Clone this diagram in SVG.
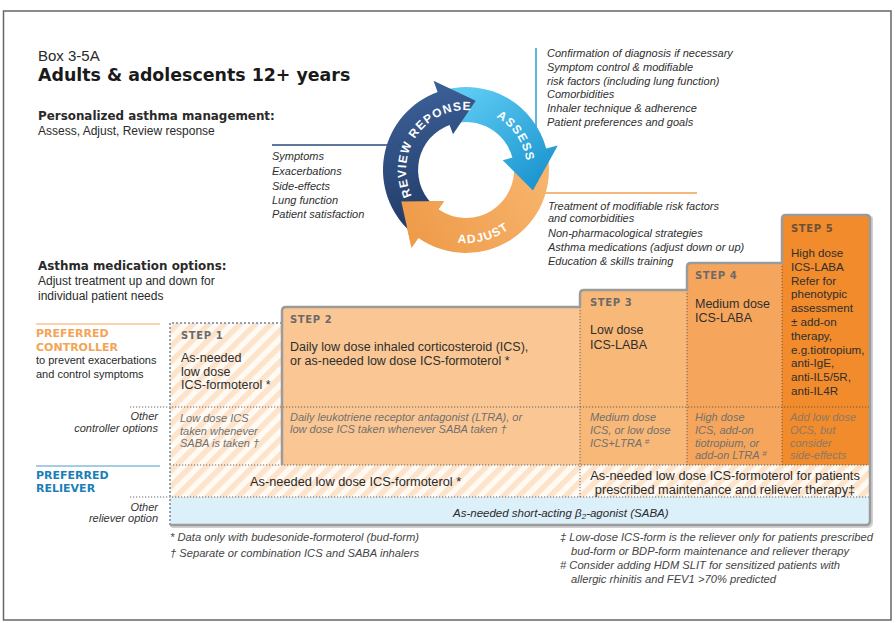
<svg xmlns="http://www.w3.org/2000/svg" width="896" height="623" viewBox="0 0 896 623">
<defs>
<style>
text{font-family:"Liberation Sans",Arial,Helvetica,sans-serif;fill:#2a2a2a}
.hv{font-family:"DejaVu Sans",Verdana,sans-serif;font-weight:bold}
.lst{font-style:italic;font-size:11px;fill:#2f2f2f}
.step{font-family:"DejaVu Sans",Verdana,sans-serif;font-weight:bold;font-size:10px;letter-spacing:0.6px;fill:#6a6a6a}
.main{font-size:12.5px;fill:#2e2e2e}
.s5{font-size:11.6px;fill:#2e2e2e}
.oth{font-style:italic;font-size:11px;fill:#707070}
.lab{font-style:italic;font-size:11px;fill:#333;text-anchor:end}
.arc{font-weight:bold;font-size:12px;fill:#fff;letter-spacing:1.2px}
.fn{font-style:italic;font-size:11px;fill:#444}
.dot{stroke:#555;stroke-width:0.9;stroke-dasharray:1.2 1.8;fill:none}
.conn{fill:none;stroke-width:1.5}
</style>
<pattern id="hatch" patternUnits="userSpaceOnUse" width="11" height="11" patternTransform="rotate(45)">
<rect width="11" height="11" fill="#fffaf4"/>
<rect width="5.5" height="11" fill="#fde3c9"/>
</pattern>
<linearGradient id="gNavy" gradientUnits="userSpaceOnUse" x1="400" y1="90" x2="450" y2="230">
<stop offset="0" stop-color="#3d6199"/><stop offset="1" stop-color="#1e3762"/>
</linearGradient>
<linearGradient id="gBlue" gradientUnits="userSpaceOnUse" x1="470" y1="90" x2="550" y2="190">
<stop offset="0" stop-color="#5ccaf2"/><stop offset="1" stop-color="#1590cc"/>
</linearGradient>
<linearGradient id="gOrange" gradientUnits="userSpaceOnUse" x1="540" y1="170" x2="410" y2="250">
<stop offset="0" stop-color="#f7b46c"/><stop offset="1" stop-color="#ee9a48"/>
</linearGradient>
<path id="tpReview" d="M410.4,192.5 A60,60 0 0,1 468.1,110.1"/>
<path id="tpAssess" d="M482.8,111.4 A61,61 0 0,1 526.7,176.4"/>
<path id="tpAdjust" d="M435.1,236.2 A73,73 0 0,0 525.8,211.9"/>
</defs>

<rect x="3.5" y="11" width="887.5" height="609" fill="#fff" stroke="#666" stroke-width="1.5"/>

<g id="header">
<text x="38" y="61" font-size="15">Box 3-5A</text>
<text class="hv" x="38" y="81" font-size="17.4" style="fill:#1a1a1a">Adults &amp; adolescents 12+ years</text>
<text class="hv" x="38" y="120" font-size="11.9">Personalized asthma management:</text>
<text x="38" y="135" font-size="12">Assess, Adjust, Review response</text>
</g>

<g id="connectors">
<path class="conn" stroke="#2b4a7c" d="M272,145 H388"/>
<path class="conn" stroke="#2a9fd6" d="M536,48 V128"/>
<path class="conn" stroke="#f0a050" d="M545,193 H697"/>
</g>

<g id="cycle">
<g id="adjust">
<path fill="url(#gOrange)" d="M547.7,155.6 A83,83 0 0,1 418.4,238.0 L411.5,247.8 L401.3,201.6 L444.2,201.1 L438.5,209.3 A48,48 0 0,0 513.3,161.7 Z"/>
</g>
<g id="assess">
<path fill="url(#gBlue)" d="M444.5,89.8 A83,83 0 0,1 546.2,148.5 L557.8,145.4 L532.9,190.5 L502.7,160.2 L512.4,157.6 A48,48 0 0,0 453.6,123.6 Z"/>
<text class="arc"><textPath href="#tpAssess" startOffset="50%" text-anchor="middle">ASSESS</textPath></text>
</g>
<g id="review">
<path fill="url(#gNavy)" d="M407.3,228.7 A83,83 0 0,1 437.6,92.0 L433.5,80.7 L475.7,100.7 L453.0,134.3 L449.6,124.9 A48,48 0 0,0 432.1,203.9 Z"/>
<text class="arc"><textPath href="#tpReview" startOffset="50%" text-anchor="middle">REVIEW REPONSE</textPath></text>
</g>
<g id="adjust-head">
<path fill="url(#gOrange)" d="M411.5,247.8 L401.3,201.6 L444.2,201.1 Z"/>
<text class="arc"><textPath href="#tpAdjust" startOffset="50%" text-anchor="middle">ADJUST</textPath></text>
</g>
</g>

<g id="review-list">
<text class="lst" x="272" y="160">Symptoms</text>
<text class="lst" x="272" y="175">Exacerbations</text>
<text class="lst" x="272" y="190">Side-effects</text>
<text class="lst" x="272" y="204">Lung function</text>
<text class="lst" x="272" y="218">Patient satisfaction</text>
</g>

<g id="assess-list">
<text class="lst" x="547" y="57">Confirmation of diagnosis if necessary</text>
<text class="lst" x="547" y="71">Symptom control &amp; modifiable</text>
<text class="lst" x="547" y="85">risk factors (including lung function)</text>
<text class="lst" x="547" y="98">Comorbidities</text>
<text class="lst" x="547" y="112">Inhaler technique &amp; adherence</text>
<text class="lst" x="547" y="126">Patient preferences and goals</text>
</g>

<g id="adjust-list">
<text class="lst" x="548" y="210">Treatment of modifiable risk factors</text>
<text class="lst" x="548" y="222">and comorbidities</text>
<text class="lst" x="548" y="237">Non-pharmacological strategies</text>
<text class="lst" x="548" y="251">Asthma medications (adjust down or up)</text>
<text class="lst" x="548" y="265">Education &amp; skills training</text>
</g>

<g id="med-options">
<text class="hv" x="38" y="270" font-size="11.9">Asthma medication options:</text>
<text x="38" y="285" font-size="12">Adjust treatment up and down for</text>
<text x="38" y="300" font-size="12">individual patient needs</text>
</g>

<g id="row-labels">
<path d="M36,324 H160" stroke="#f0a860" stroke-width="1"/>
<text class="hv" x="36" y="337" font-size="11" style="fill:#f2a557">PREFERRED</text>
<text class="hv" x="36" y="351" font-size="11" style="fill:#f2a557">CONTROLLER</text>
<text x="36" y="364" font-size="11">to prevent exacerbations</text>
<text x="36" y="378" font-size="11">and control symptoms</text>
<text class="lab" x="158" y="420">Other</text>
<text class="lab" x="158" y="432">controller options</text>
<path d="M36,466 H160" stroke="#4a9cc8" stroke-width="1"/>
<text class="hv" x="36" y="479" font-size="11" style="fill:#1a80b8">PREFERRED</text>
<text class="hv" x="36" y="492" font-size="11" style="fill:#1a80b8">RELIEVER</text>
<text class="lab" x="158" y="511">Other</text>
<text class="lab" x="158" y="522">reliever option</text>
</g>

<g id="fills">
<rect x="170" y="323" width="112" height="142" fill="url(#hatch)"/>
<rect x="170" y="465" width="700" height="32" fill="url(#hatch)"/>
<rect x="170" y="497" width="700" height="28" fill="#dcf0fa"/>
<rect x="282" y="307" width="298" height="158" fill="#fac794"/>
<rect x="580" y="290" width="107" height="175" fill="#f8b878"/>
<rect x="687" y="263" width="95" height="202" fill="#f6a65c"/>
<rect x="782" y="215" width="88" height="250" fill="#f18b2c"/>
</g>

<g id="grid">
<path class="dot" d="M130,407 H870"/>
<path class="dot" d="M170,465 H870"/>
<path class="dot" d="M130,497 H870"/>
<path class="dot" d="M580,307 V497"/>
<path class="dot" d="M687,290 V465"/>
<path class="dot" d="M782,263 V465"/>
<path d="M170,525 V323 H282" fill="none" stroke="#8ea3b8" stroke-width="2" stroke-dasharray="2 2"/>
<path d="M171.5,527 H867.5 Q872,527 872,522 V219 Q872,217 870,217" fill="none" stroke="#d0d0d0" stroke-width="2"/>
<path d="M170,525 H866 Q870,525 870,521 V219 Q870,215 866,215 H786 Q782,215 782,219 V263 H691 Q687,263 687,267 V290 H584 Q580,290 580,294 V307 H286 Q282,307 282,311 V465" fill="none" stroke="#9b9b9b" stroke-width="2.5" stroke-linejoin="round"/>
</g>

<g id="step1">
<text class="step" x="181" y="339">STEP 1</text>
<text class="main" x="181" y="362">As-needed</text>
<text class="main" x="181" y="376">low dose</text>
<text class="main" x="181" y="389">ICS-formoterol *</text>
<text class="oth" x="180" y="422">Low dose ICS</text>
<text class="oth" x="180" y="435">taken whenever</text>
<text class="oth" x="180" y="447">SABA is taken †</text>
</g>

<g id="step2">
<text class="step" x="290" y="323">STEP 2</text>
<text class="main" x="290" y="351">Daily low dose inhaled corticosteroid (ICS),</text>
<text class="main" x="290" y="365">or as-needed low dose ICS-formoterol *</text>
<text class="oth" x="290" y="421">Daily leukotriene receptor antagonist (LTRA), or</text>
<text class="oth" x="290" y="433">low dose ICS taken whenever SABA taken †</text>
</g>

<g id="step3">
<text class="step" x="590" y="306">STEP 3</text>
<text class="main" x="590" y="334">Low dose</text>
<text class="main" x="590" y="349">ICS-LABA</text>
<text class="oth" x="590" y="421">Medium dose</text>
<text class="oth" x="590" y="434">ICS, or low dose</text>
<text class="oth" x="590" y="447">ICS+LTRA <tspan font-size="8" dy="-3">#</tspan></text>
</g>

<g id="step4">
<text class="step" x="695" y="279">STEP 4</text>
<text class="main" x="695" y="308">Medium dose</text>
<text class="main" x="695" y="322">ICS-LABA</text>
<text class="oth" x="695" y="421">High dose</text>
<text class="oth" x="695" y="434">ICS, add-on</text>
<text class="oth" x="695" y="447">tiotropium, or</text>
<text class="oth" x="695" y="459">add-on LTRA <tspan font-size="8" dy="-3">#</tspan></text>
</g>

<g id="step5">
<text class="step" x="791" y="232" style="fill:#6b5038">STEP 5</text>
<text class="s5" x="791" y="257">High dose</text>
<text class="s5" x="791" y="271">ICS-LABA</text>
<text class="s5" x="791" y="285">Refer for</text>
<text class="s5" x="791" y="298">phenotypic</text>
<text class="s5" x="791" y="312">assessment</text>
<text class="s5" x="791" y="326">± add-on</text>
<text class="s5" x="791" y="340">therapy,</text>
<text class="s5" x="791" y="354">e.g.tiotropium,</text>
<text class="s5" x="791" y="367">anti-IgE,</text>
<text class="s5" x="791" y="381">anti-IL5/5R,</text>
<text class="s5" x="791" y="395">anti-IL4R</text>
<text class="oth" x="790" y="421" style="fill:#8a7a6a">Add low dose</text>
<text class="oth" x="790" y="434" style="fill:#8a7a6a">OCS, but</text>
<text class="oth" x="790" y="447" style="fill:#8a7a6a">consider</text>
<text class="oth" x="790" y="459" style="fill:#8a7a6a">side-effects</text>
</g>

<g id="reliever">
<text x="250" y="486" font-size="12.8">As-needed low dose ICS-formoterol *</text>
<text x="725" y="480" font-size="12.8" text-anchor="middle">As-needed low dose ICS-formoterol  for patients</text>
<text x="725" y="494" font-size="12.8" text-anchor="middle">prescribed maintenance and reliever therapy‡</text>
</g>

<g id="saba">
<text x="453" y="517" font-size="11.5" font-style="italic" fill="#333">As-needed short-acting β<tspan font-size="8" dy="2">2</tspan><tspan dy="-2">-agonist (SABA)</tspan></text>
</g>

<g id="footnotes">
<text class="fn" x="170" y="541" textLength="249" lengthAdjust="spacingAndGlyphs">*  Data only with budesonide-formoterol (bud-form)</text>
<text class="fn" x="170" y="557" textLength="249" lengthAdjust="spacingAndGlyphs">† Separate or combination ICS and SABA inhalers</text>
<text class="fn" x="560" y="541" textLength="313" lengthAdjust="spacingAndGlyphs">‡ Low-dose ICS-form is the reliever only for patients prescribed</text>
<text class="fn" x="571" y="555" textLength="278" lengthAdjust="spacingAndGlyphs">bud-form or BDP-form maintenance and reliever therapy</text>
<text class="fn" x="560" y="569" textLength="280" lengthAdjust="spacingAndGlyphs"># Consider adding HDM SLIT for sensitized patients with</text>
<text class="fn" x="571" y="583" textLength="205" lengthAdjust="spacingAndGlyphs">allergic rhinitis and FEV1 &gt;70% predicted</text>
</g>
</svg>
